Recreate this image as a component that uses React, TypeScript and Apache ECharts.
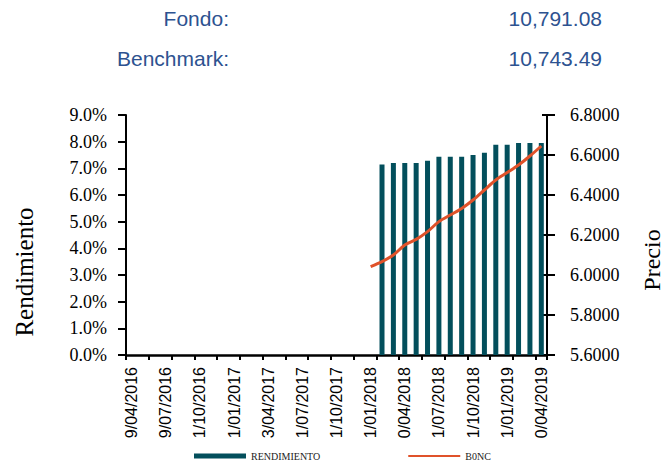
import React, { useEffect, useRef } from "react";
import * as echarts from "echarts";

// Monthly categories on the date axis (Apr 2016 .. Apr 2019)
const months: string[] = [
  "2016-04","2016-05","2016-06","2016-07","2016-08","2016-09","2016-10","2016-11","2016-12",
  "2017-01","2017-02","2017-03","2017-04","2017-05","2017-06","2017-07","2017-08","2017-09",
  "2017-10","2017-11","2017-12","2018-01","2018-02","2018-03","2018-04","2018-05","2018-06",
  "2018-07","2018-08","2018-09","2018-10","2018-11","2018-12","2019-01","2019-02","2019-03","2019-04",
];
// Visible (clipped) quarterly tick labels, one per 3 months starting at Apr 2016
const tickLabels: string[] = [
  "9/04/2016","9/07/2016","1/10/2016","1/01/2017","3/04/2017","1/07/2017","1/10/2017",
  "1/01/2018","0/04/2018","1/07/2018","1/10/2018","1/01/2019","0/04/2019",
];
// RENDIMIENTO (bars, %)
const barMonths: string[] = [
  "2018-02","2018-03","2018-04","2018-05","2018-06","2018-07","2018-08","2018-09",
  "2018-10","2018-11","2018-12","2019-01","2019-02","2019-03","2019-04",
];
const barValues: number[] = [7.14, 7.2, 7.2, 7.2, 7.28, 7.43, 7.43, 7.43, 7.5, 7.58, 7.88, 7.88, 7.95, 7.95, 7.95];
// B0NC (line, precio)
const lineMonths: string[] = [
  "2018-01","2018-02","2018-03","2018-04","2018-05","2018-06","2018-07","2018-08",
  "2018-09","2018-10","2018-11","2018-12","2019-01","2019-02","2019-03","2019-04",
];
const lineValues: number[] = [6.042, 6.067, 6.1, 6.15, 6.178, 6.217, 6.267, 6.3, 6.333, 6.375, 6.425, 6.475, 6.512, 6.55, 6.595, 6.645];

const headerLabels: string[] = ["Fondo:", "Benchmark:"];
const headerValues: string[] = ["10,791.08", "10,743.49"];

const BAR_COLOR = "#034f5c";
const LINE_COLOR = "#e0522a";
const HEADER_COLOR = "#2d5290";
const SERIF = "'Liberation Serif', 'Times New Roman', serif";
const SANS = "'Liberation Sans', Arial, sans-serif";

export default function App() {
  const ref = useRef<HTMLDivElement>(null);
  useEffect(() => {
    if (!ref.current) return;
    const chart = echarts.init(ref.current, undefined, { renderer: "svg" });

    const catLabels = months.map((_, i) => (i % 3 === 0 ? tickLabels[i / 3] : ""));
    const barData = months.map((m) => {
      const k = barMonths.indexOf(m);
      return k >= 0 ? barValues[k] : null;
    });
    const lineData = months.map((m) => {
      const k = lineMonths.indexOf(m);
      return k >= 0 ? lineValues[k] : null;
    });

    const headerGraphics: any[] = [];
    headerLabels.forEach((t, i) => {
      const y = 18 + i * 40;
      headerGraphics.push({
        type: "text", x: 229, y,
        style: { text: t, fill: HEADER_COLOR, font: `21px ${SANS}`, textAlign: "right", textVerticalAlign: "middle" },
      });
      headerGraphics.push({
        type: "text", x: 602, y,
        style: { text: headerValues[i], fill: HEADER_COLOR, font: `21px ${SANS}`, textAlign: "right", textVerticalAlign: "middle" },
      });
    });

    const option: any = {
      animation: false,
      backgroundColor: "#ffffff",
      grid: { left: 126, right: 118, top: 115, bottom: 111, containLabel: false },
      legend: {
        left: 194,
        top: 451,
        padding: 0,
        itemWidth: 52,
        itemHeight: 5,
        itemGap: 87,
        textStyle: { fontFamily: SERIF, fontSize: 10, color: "#222" },
        data: [
          { name: "RENDIMIENTO", icon: "rect" },
          { name: "B0NC", itemStyle: { opacity: 0 }, lineStyle: { width: 2 } },
        ],
      },
      xAxis: {
        type: "category",
        data: catLabels,
        boundaryGap: true,
        axisLine: { lineStyle: { color: "#000", width: 2.5 } },
        axisTick: { show: true, interval: 1, length: 5, lineStyle: { color: "#000", width: 2 } },
        axisLabel: {
          interval: 2,
          rotate: 90,
          margin: 12,
          fontFamily: SANS,
          fontSize: 16,
          color: "#000",
          formatter: (v: string) => v,
        },
        splitLine: { show: false },
      },
      yAxis: [
        {
          type: "value",
          min: 0,
          max: 9,
          interval: 1,
          position: "left",
          axisLine: { show: true, lineStyle: { color: "#000", width: 2 } },
          axisTick: { show: true, length: 8, lineStyle: { color: "#000", width: 2 } },
          axisLabel: {
            margin: 19,
            fontFamily: SERIF,
            fontSize: 18,
            color: "#000",
            formatter: (v: number) => v.toFixed(1) + "%",
          },
          splitLine: { show: false },
        },
        {
          type: "value",
          min: 5.6,
          max: 6.8,
          interval: 0.2,
          position: "right",
          axisLine: { show: true, lineStyle: { color: "#000", width: 2 } },
          axisTick: { show: true, length: 8, lineStyle: { color: "#000", width: 2 } },
          axisLabel: {
            margin: 23,
            fontFamily: SERIF,
            fontSize: 18,
            color: "#000",
            formatter: (v: number) => v.toFixed(4),
          },
          splitLine: { show: false },
        },
        {
          type: "value",
          min: 5.6,
          max: 6.8,
          interval: 0.2,
          position: "right",
          axisLine: { show: false },
          axisTick: { show: true, inside: true, length: 5, lineStyle: { color: "#000", width: 2 } },
          axisLabel: { show: false },
          splitLine: { show: false },
        },
      ],
      series: [
        {
          name: "RENDIMIENTO",
          type: "bar",
          yAxisIndex: 0,
          data: barData,
          barWidth: 5,
          itemStyle: { color: BAR_COLOR },
        },
        {
          name: "B0NC",
          type: "line",
          yAxisIndex: 1,
          data: lineData,
          symbol: "none",
          smooth: 0.3,
          connectNulls: false,
          lineStyle: { color: LINE_COLOR, width: 3 },
          itemStyle: { color: LINE_COLOR },
        },
      ],
      graphic: [
        ...headerGraphics,
        {
          type: "text", x: 24, y: 272, rotation: Math.PI / 2,
          style: { text: "Rendimiento", fill: "#000", font: `25px ${SERIF}`, textAlign: "center", textVerticalAlign: "middle" },
        },
        {
          type: "text", x: 652, y: 260, rotation: Math.PI / 2,
          style: { text: "Precio", fill: "#000", font: `24px ${SERIF}`, textAlign: "center", textVerticalAlign: "middle" },
        },
      ],
    };
    chart.setOption(option);
    return () => chart.dispose();
  }, []);
  return (
    <div
      ref={ref}
      style={{ position: "fixed", left: 0, top: 0, width: 665, height: 466, background: "#fff" }}
    />
  );
}
